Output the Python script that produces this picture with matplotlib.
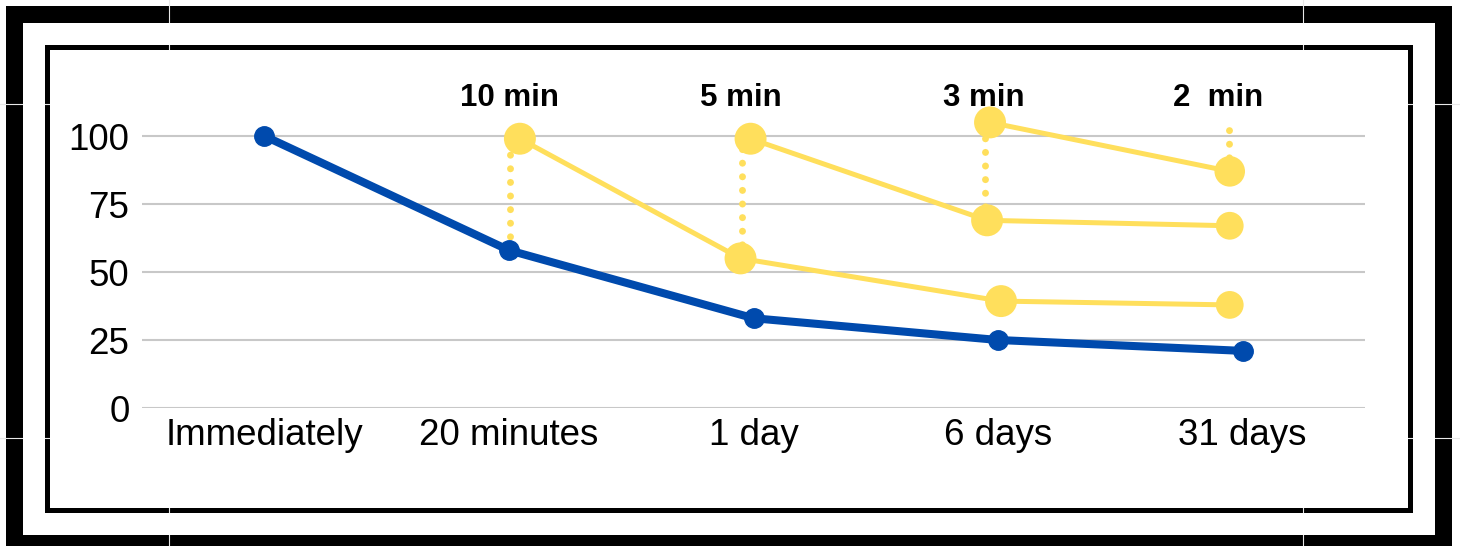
import matplotlib.pyplot as plt
from matplotlib.patches import Rectangle
from matplotlib.lines import Line2D

plt.rcParams['font.family'] = ['Liberation Sans', 'DejaVu Sans']

# data
categories = ["Immediately", "20 minutes", "1 day", "6 days", "31 days"]
retention = [100, 58, 33, 25, 21]

# review curves (yellow), x given as category position
review_x = [[1.045, 1.947, 3.012, 3.947],
            [1.988, 2.955, 3.947],
            [2.967, 3.947]]
review_y = [[99, 55, 39.3, 37.9],
            [99, 69, 67],
            [105, 87]]
review_size = [[23, 23, 23, 20],
               [23, 23, 20],
               [23, 22]]

# dotted jumps at each review
jump_x = [1.004, 1.954, 2.947, 3.943]
jump_lo = [58, 55, 69, 87]
jump_hi = [99, 99, 105, 104.5]

review_labels = ["10 min", "5 min", "3 min", "2  min"]
label_x = [1.004, 1.949, 2.943, 3.898]
label_y = 114

blue = '#004AAD'
yellow = '#FFDF5C'
W, H = 1460, 546

fig = plt.figure(figsize=(W / 100, H / 100), dpi=100)

def box(x0, y0, x1, y1, color, z):
    # pixel box (top-left origin) -> figure fraction
    fig.add_artist(Rectangle((x0 / W, 1 - y1 / H), (x1 - x0) / W, (y1 - y0) / H,
                             transform=fig.transFigure, facecolor=color,
                             edgecolor='none', zorder=z))

box(6, 6, 1452, 560, 'black', -5)
box(23, 23, 1435, 535, 'white', -4)
box(45, 45, 1413, 513, 'black', -3)
box(50, 50, 1408, 508, 'white', -2)

# thin seams that cut through the frame
for px in [169, 1303]:
    fig.add_artist(Line2D([px / W, px / W], [0, 1], transform=fig.transFigure,
                          color='#e8e8e8', lw=0.8, zorder=-1))
for py in [104, 438]:
    fig.add_artist(Line2D([0, 1], [1 - py / H, 1 - py / H], transform=fig.transFigure,
                          color='#e8e8e8', lw=0.8, zorder=-1))
# seams only show on the black frame: white out the inside again
box(23, 23, 1435, 45, 'white', -0.5)
box(23, 513, 1435, 535, 'white', -0.5)
box(23, 45, 45, 513, 'white', -0.5)
box(1413, 45, 1435, 513, 'white', -0.5)
box(50, 50, 1408, 508, 'white', -0.5)

ymax = 128
ax = fig.add_axes([142 / W, 1 - 408 / H, (1365 - 142) / W, (ymax * 2.72) / H])
ax.patch.set_alpha(0)
ax.set_xlim(-0.5, 4.5)
ax.set_ylim(0, ymax)
for s in ax.spines.values():
    s.set_visible(False)
ax.set_yticks([0, 25, 50, 75, 100])
ax.set_xticks(range(len(categories)))
ax.set_xticklabels(categories)
ax.tick_params(length=0, labelsize=26.5, pad=7)
ax.tick_params(axis='y', pad=9)
ax.yaxis.grid(True, color='#c8c8c8', lw=1.5)
ax.set_axisbelow(True)

for x, lo, hi in zip(jump_x, jump_lo, jump_hi):
    ax.plot([x, x], [lo, hi], color=yellow, lw=5, linestyle=(0, (0.01, 1.95)),
            dash_capstyle='round', zorder=2, clip_on=False)

for xs, ys, ss in zip(review_x, review_y, review_size):
    ax.plot(xs, ys, color=yellow, lw=3.6, zorder=3, clip_on=False)
    ax.scatter(xs, ys, s=[v ** 2 for v in ss], color=yellow, zorder=4,
               clip_on=False, linewidths=0)

ax.plot(range(len(categories)), retention, color=blue, lw=5.8, marker='o',
        markersize=14, zorder=5, clip_on=False)

for t, x in zip(review_labels, label_x):
    ax.text(x, label_y, t, ha='center', va='center', fontsize=22.5,
            fontweight='bold')

fig.savefig('out.png', dpi=100)
